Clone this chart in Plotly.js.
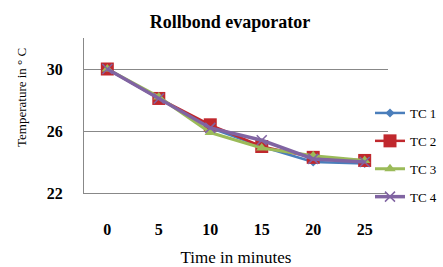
<!DOCTYPE html>
<html><head><meta charset="utf-8">
<script src="https://cdn.plot.ly/plotly-3.0.1.min.js"></script>
<style>html,body{margin:0;padding:0;background:#fff}#c{width:443px;height:267px}</style>
</head><body><div id="c"></div>
<script>
var times = ['0','5','10','15','20','25'];
var tc1 = [30.0, 28.1, 26.2, 25.0, 24.0, 23.9];
var tc2 = [30.0, 28.1, 26.4, 25.0, 24.3, 24.1];
var tc3 = [30.0, 28.2, 25.9, 24.9, 24.4, 24.1];
var tc4 = [30.0, 28.1, 26.2, 25.4, 24.2, 24.0];
var names = ['TC 1','TC 2','TC 3','TC 4'];
var series = [tc1, tc2, tc3, tc4];
var colors = ['#4a7ebb','#c0282d','#9bbb59','#8064a2'];
var symbols = ['diamond','square','triangle-up','x-thin'];
var msizes = [7, 13, 10, 10];
var widths = [2.5, 2.5, 3, 3.5];
var traces = series.map(function(s, i){
  return {x: times, y: s, name: names[i], type: 'scatter', mode: 'lines+markers',
    legendgroup: 'g'+i,
    line: {color: colors[i], width: widths[i]},
    marker: {symbol: symbols[i], size: msizes[i], color: colors[i],
      line: {color: colors[i], width: i===3 ? 1.5 : 0}}};
});
var serif = '"Liberation Serif", "Times New Roman", serif';
var layout = {
  width: 443, height: 267,
  margin: {l: 84, r: 55, t: 38, b: 74, autoexpand: false},
  paper_bgcolor: '#fff', plot_bgcolor: '#fff',
  title: {text: '<b>Rollbond evaporator</b>', font: {family: serif, size: 18, color: '#000'},
    x: 230/443, xanchor: 'center', y: 1 - 22/267, yanchor: 'middle'},
  xaxis: {type: 'category', showgrid: false, showline: true, linecolor: '#888', linewidth: 1,
    ticks: '', ticklabelstandoff: 22,
    tickfont: {family: serif, size: 16, color: '#000', weight: 'bold'},
    title: {text: 'Time in minutes', font: {family: serif, size: 17, color: '#000'}, standoff: 15},
    zeroline: false, fixedrange: true},
  yaxis: {range: [22, 32], tick0: 22, dtick: 4, showgrid: true, gridcolor: '#888', gridwidth: 1,
    showline: true, linecolor: '#888', linewidth: 1, ticks: '', ticklabelstandoff: 17,
    tickfont: {family: serif, size: 16, color: '#000', weight: 'bold'},
    zeroline: false, fixedrange: true},
  annotations: [{text: 'Temperature in ° C', xref: 'paper', yref: 'paper',
    x: (21 - 84) / 304, y: (193 - 98) / 155, xanchor: 'center', yanchor: 'middle',
    textangle: -90, showarrow: false, font: {family: serif, size: 13, color: '#000'}}],
  legend: {x: (370 - 84) / 304, xanchor: 'left', y: 1 - 60 / 155, yanchor: 'top', bgcolor: 'rgba(0,0,0,0)',
    font: {family: serif, size: 13, color: '#000'}, traceorder: 'grouped', tracegroupgap: 8,
    itemwidth: 30},
  showlegend: true
};
Plotly.newPlot('c', traces, layout, {displayModeBar: false, staticPlot: true});
</script></body></html>
